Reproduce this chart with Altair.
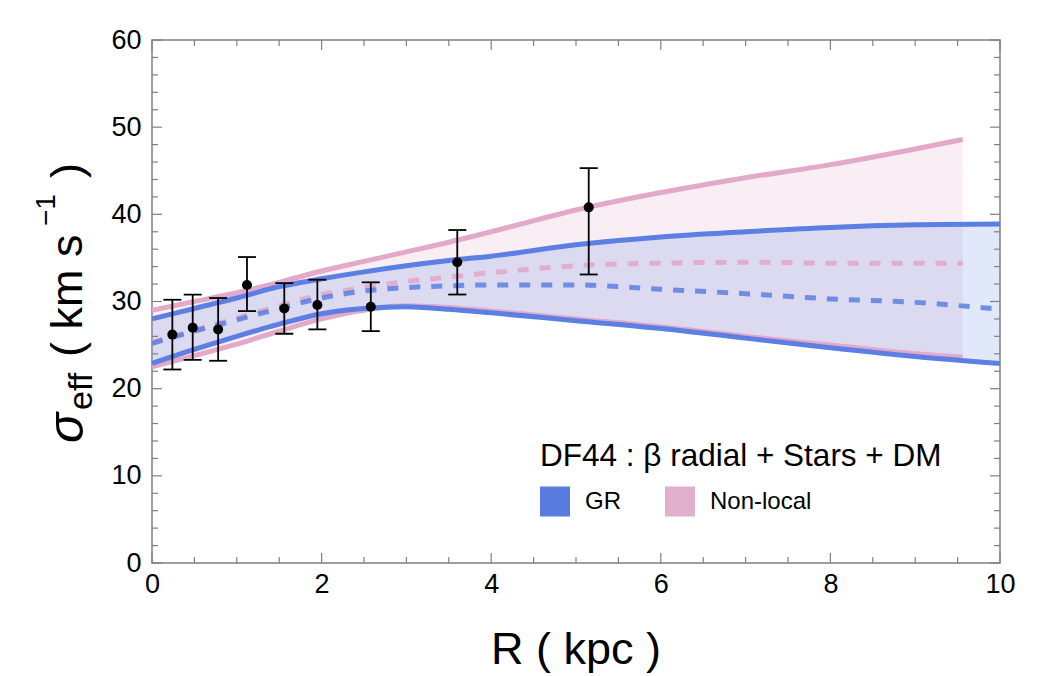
import altair as alt
import pandas as pd

FONT = "Liberation Sans"
BLUE = "#5b7fe3"
PINK = "#e2a9c9"
BLUE_LEG = "#5a7ce0"
PINK_LEG = "#e0b0cc"

# ---- data ----
R_GR = [0, 0.5, 1, 1.5, 2, 2.5, 3, 3.5, 4, 5, 6, 7, 8, 9, 10]
gr_upper = [28.0, 29.2, 30.4, 31.7, 32.6, 33.4, 34.1, 34.7, 35.2, 36.5, 37.4, 38.0, 38.5, 38.8, 38.9]
gr_lower = [22.9, 24.5, 26.0, 27.4, 28.6, 29.2, 29.4, 29.1, 28.7, 27.8, 26.9, 25.8, 24.7, 23.7, 22.9]
gr_median = [25.2, 26.6, 27.9, 29.2, 30.4, 31.2, 31.6, 31.8, 31.9, 31.9, 31.4, 30.9, 30.3, 29.9, 29.1]

R_NL = [0, 0.5, 1, 1.5, 2, 2.5, 3, 3.5, 4, 5, 6, 7, 8, 9, 9.56]
nl_upper = [29.0, 30.0, 31.0, 32.2, 33.5, 34.6, 35.7, 36.8, 38.0, 40.5, 42.5, 44.2, 45.7, 47.5, 48.6]
nl_lower = [22.5, 23.8, 25.1, 26.6, 28.0, 29.0, 29.5, 29.3, 28.9, 28.0, 27.1, 26.0, 25.0, 24.0, 23.6]
nl_median = [25.3, 26.7, 28.1, 29.5, 30.8, 31.6, 32.3, 32.8, 33.3, 34.1, 34.4, 34.5, 34.4, 34.4, 34.4]

R_obs = [0.24, 0.48, 0.78, 1.12, 1.56, 1.95, 2.58, 3.60, 5.15]
sig_obs = [26.2, 27.0, 26.8, 31.9, 29.2, 29.6, 29.4, 34.5, 40.8]
err_lo = [22.2, 23.3, 23.2, 28.9, 26.3, 26.8, 26.6, 30.8, 33.1]
err_hi = [30.2, 30.8, 30.4, 35.1, 32.1, 32.5, 32.2, 38.2, 45.3]

x_ticks = [0, 2, 4, 6, 8, 10]
y_ticks = [0, 10, 20, 30, 40, 50, 60]
x_minor = [v / 2 for v in range(0, 21) if v % 4 != 0]
y_minor = [v for v in range(0, 61, 2) if v % 10 != 0]

models = ["GR", "Non-local"]
legend_title = "DF44 : β radial + Stars + DM"

W, H = 848, 523

gr = pd.DataFrame({"R": R_GR, "upper": gr_upper, "lower": gr_lower, "median": gr_median})
nl = pd.DataFrame({"R": R_NL, "upper": nl_upper, "lower": nl_lower, "median": nl_median})
obs = pd.DataFrame({"R": R_obs, "s": sig_obs, "lo": err_lo, "hi": err_hi})

xs = alt.Scale(domain=[0, 10], nice=False, zero=False)
ys = alt.Scale(domain=[0, 60], nice=False, zero=False)
xaxis = alt.Axis(values=x_ticks, labelPadding=8, title=None, format="d", labelFlush=False)
yaxis = alt.Axis(values=y_ticks, labelPadding=11, title=None, format="d", labelFlush=False)


def X(f):
    return alt.X(f, type="quantitative", scale=xs, axis=xaxis, title=None)


def Y(f):
    return alt.Y(f, type="quantitative", scale=ys, axis=yaxis, title=None)


layers = []
# bands
layers.append(alt.Chart(nl).mark_area(color=PINK, opacity=0.2, interpolate="monotone")
              .encode(x=X("R"), y=Y("upper"), y2="lower"))
layers.append(alt.Chart(gr).mark_area(color=BLUE, opacity=0.18, interpolate="monotone")
              .encode(x=X("R"), y=Y("upper"), y2="lower"))
# solid edges
for df, col in [(nl, PINK), (gr, BLUE)]:
    for f in ["upper", "lower"]:
        layers.append(alt.Chart(df).mark_line(color=col, strokeWidth=5, interpolate="monotone")
                      .encode(x=X("R"), y=Y(f)))
# dashed medians
layers.append(alt.Chart(nl).mark_line(color=PINK, strokeWidth=5, strokeDash=[11, 11],
                                      interpolate="monotone", opacity=0.9)
              .encode(x=X("R"), y=Y("median")))
layers.append(alt.Chart(gr).mark_line(color=BLUE, strokeWidth=5, strokeDash=[11, 11],
                                      interpolate="monotone", opacity=0.85)
              .encode(x=X("R"), y=Y("median")))
# error bars
layers.append(alt.Chart(obs).mark_rule(color="black", strokeWidth=1.8)
              .encode(x=X("R"), y=Y("lo"), y2="hi"))
for f in ["lo", "hi"]:
    layers.append(alt.Chart(obs).mark_tick(color="black", orient="horizontal", size=18, thickness=1.8, opacity=1)
                  .encode(x=X("R"), y=Y(f)))
layers.append(alt.Chart(obs).mark_circle(color="black", size=100, opacity=1)
              .encode(x=X("R"), y=Y("s")))

# inward frame ticks
TK = "#808080"
for vals, ln in [(x_ticks, 10), (x_minor, 6)]:
    d = pd.DataFrame({"v": vals})
    layers.append(alt.Chart(d).mark_rule(color=TK, strokeWidth=1.2)
                  .encode(x=X("v"), y=alt.value(H), y2=alt.value(H - ln)))
    layers.append(alt.Chart(d).mark_rule(color=TK, strokeWidth=1.2)
                  .encode(x=X("v"), y=alt.value(0), y2=alt.value(ln)))
for vals, ln in [(y_ticks, 10), (y_minor, 6)]:
    d = pd.DataFrame({"v": vals})
    layers.append(alt.Chart(d).mark_rule(color=TK, strokeWidth=1.2)
                  .encode(y=Y("v"), x=alt.value(0), x2=alt.value(ln)))
    layers.append(alt.Chart(d).mark_rule(color=TK, strokeWidth=1.2)
                  .encode(y=Y("v"), x=alt.value(W), x2=alt.value(W - ln)))

# legend carrier (hidden marks, clipped away)
leg = pd.DataFrame({"model": models})
layers.append(alt.Chart(leg).mark_square(size=900, opacity=1, clip=True)
              .encode(x=alt.value(-500), y=alt.value(-500),
                      color=alt.Color("model:N",
                                      scale=alt.Scale(domain=models, range=[BLUE_LEG, PINK_LEG]),
                                      legend=alt.Legend(
                                          title=legend_title, orient="none", legendX=388, legendY=401,
                                          direction="horizontal", titleFont=FONT, titleFontSize=31.5,
                                          titleFontWeight="normal", titleColor="black", titlePadding=14,
                                          titleLimit=800, labelFont=FONT, labelFontSize=24,
                                          labelColor="black", symbolType="square", symbolSize=900,
                                          symbolStrokeWidth=0, symbolOpacity=1, labelOffset=15,
                                          columnPadding=44, padding=0))))

one = pd.DataFrame({"k": [0]})


def txt(s, x, y, size, style="normal"):
    return alt.Chart(one).mark_text(text=s, font=FONT, fontSize=size, angle=270, align="left",
                                    baseline="alphabetic", color="black", fontStyle=style
                                    ).encode(x=alt.value(x), y=alt.value(y))


layers.append(txt("σ", -69, 403, 50, "italic"))
layers.append(txt("eff", -60, 370, 34))
layers.append(txt("( km s", -70, 317, 45))
layers.append(txt("−1", -97, 186, 28))
layers.append(txt(")", -70, 138, 45))
layers.append(alt.Chart(one).mark_text(text="R ( kpc )", font=FONT, fontSize=45, align="center",
                                       baseline="alphabetic", color="black")
              .encode(x=alt.value(W / 2), y=alt.value(624)))

chart = alt.layer(*layers).properties(
    width=W, height=H,
    autosize=alt.AutoSizeParams(type="none"),
    padding={"left": 144, "top": 32, "right": 41, "bottom": 113},
).configure_view(stroke="#808080", strokeWidth=1.5).configure_axis(
    grid=False, domain=False, ticks=False, labelFont=FONT, labelFontSize=27, labelColor="black"
)

chart.save("out.html", embed_options={"renderer": "svg", "actions": False})
